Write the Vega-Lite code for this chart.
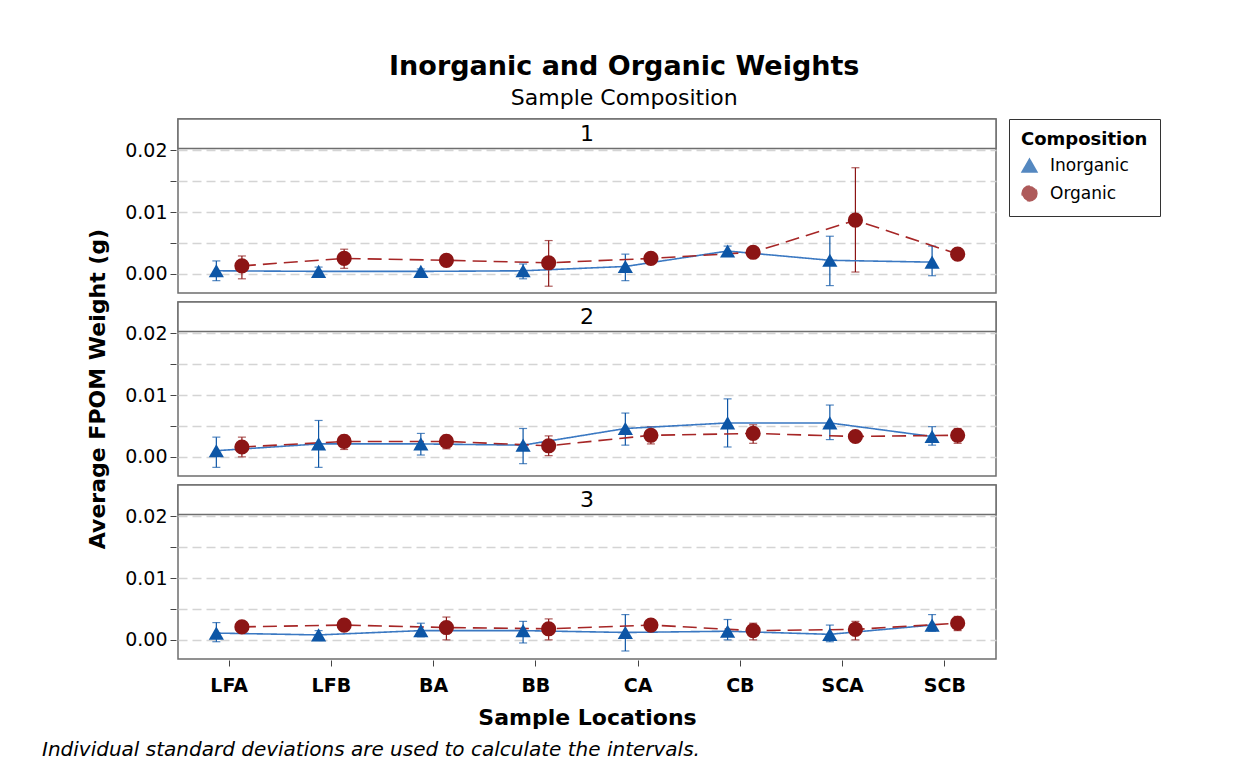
{
  "$schema": "https://vega.github.io/schema/vega-lite/v6.json",
  "background": "white",
  "padding": {"left": 41, "top": 52, "right": 5, "bottom": 5},
  "title": {"text": "Inorganic and Organic Weights", "subtitle": "Sample Composition", "font": "DejaVu Sans", "subtitleFont": "DejaVu Sans", "fontSize": 27, "subtitleFontSize": 22, "fontWeight": "bold", "color": "black", "subtitleColor": "black", "anchor": "middle", "frame": "bounds", "offset": 8, "subtitlePadding": 7, "dx": 23},
  "config": {
    "font": "DejaVu Sans",
    "view": {"stroke": "#6e6e6e", "strokeWidth": 1.5},
    "axisY": {"grid": true, "gridDash": [9, 5], "gridColor": "#d4d4d4", "gridWidth": 1.5, "domain": false, "tickColor": "#444", "tickSize": 6, "labelFontSize": 19, "labelColor": "black", "labelPadding": 3},
    "axisX": {"labelAngle": 0, "labelFontSize": 19, "labelFontWeight": "bold", "labelColor": "black", "tickSize": 6, "tickColor": "#444", "domain": false, "grid": false, "titleFontSize": 22, "titleFontWeight": "bold", "titleColor": "black", "labelPadding": 10, "titlePadding": 12}
  },
  "vconcat": [
    {
      "title": {"text": "Individual standard deviations are used to calculate the intervals.", "orient": "bottom", "anchor": "start", "frame": "bounds", "font": "DejaVu Sans", "fontStyle": "italic", "fontWeight": "normal", "fontSize": 20, "color": "black", "dx": -45, "offset": 12},
      "data": {"values": [
        {"panel": "1", "loc": "LFA", "comp": "Inorganic", "mean": 0.0005, "lo": -0.0011, "hi": 0.0021},
        {"panel": "1", "loc": "LFB", "comp": "Inorganic", "mean": 0.0004, "lo": -0.0003, "hi": 0.0011},
        {"panel": "1", "loc": "BA", "comp": "Inorganic", "mean": 0.0004, "lo": 0.0000, "hi": 0.0008},
        {"panel": "1", "loc": "BB", "comp": "Inorganic", "mean": 0.0005, "lo": -0.0008, "hi": 0.0016},
        {"panel": "1", "loc": "CA", "comp": "Inorganic", "mean": 0.0012, "lo": -0.0011, "hi": 0.0032},
        {"panel": "1", "loc": "CB", "comp": "Inorganic", "mean": 0.0037, "lo": 0.0031, "hi": 0.0045},
        {"panel": "1", "loc": "SCA", "comp": "Inorganic", "mean": 0.0022, "lo": -0.0019, "hi": 0.0061},
        {"panel": "1", "loc": "SCB", "comp": "Inorganic", "mean": 0.0019, "lo": -0.0003, "hi": 0.0045},
        {"panel": "1", "loc": "LFA", "comp": "Organic", "mean": 0.0013, "lo": -0.0008, "hi": 0.0029},
        {"panel": "1", "loc": "LFB", "comp": "Organic", "mean": 0.0025, "lo": 0.0009, "hi": 0.0040},
        {"panel": "1", "loc": "BA", "comp": "Organic", "mean": 0.0022, "lo": 0.0019, "hi": 0.0025},
        {"panel": "1", "loc": "BB", "comp": "Organic", "mean": 0.0018, "lo": -0.0020, "hi": 0.0054},
        {"panel": "1", "loc": "CA", "comp": "Organic", "mean": 0.0025, "lo": 0.0021, "hi": 0.0029},
        {"panel": "1", "loc": "CB", "comp": "Organic", "mean": 0.0035, "lo": 0.0031, "hi": 0.0039},
        {"panel": "1", "loc": "SCA", "comp": "Organic", "mean": 0.0087, "lo": 0.0003, "hi": 0.0172},
        {"panel": "1", "loc": "SCB", "comp": "Organic", "mean": 0.0032, "lo": 0.0028, "hi": 0.0036},
        {"panel": "2", "loc": "LFA", "comp": "Inorganic", "mean": 0.0010, "lo": -0.0017, "hi": 0.0032},
        {"panel": "2", "loc": "LFB", "comp": "Inorganic", "mean": 0.0021, "lo": -0.0017, "hi": 0.0059},
        {"panel": "2", "loc": "BA", "comp": "Inorganic", "mean": 0.0021, "lo": 0.0003, "hi": 0.0038},
        {"panel": "2", "loc": "BB", "comp": "Inorganic", "mean": 0.0019, "lo": -0.0011, "hi": 0.0046},
        {"panel": "2", "loc": "CA", "comp": "Inorganic", "mean": 0.0046, "lo": 0.0019, "hi": 0.0071},
        {"panel": "2", "loc": "CB", "comp": "Inorganic", "mean": 0.0055, "lo": 0.0016, "hi": 0.0094},
        {"panel": "2", "loc": "SCA", "comp": "Inorganic", "mean": 0.0055, "lo": 0.0028, "hi": 0.0084},
        {"panel": "2", "loc": "SCB", "comp": "Inorganic", "mean": 0.0033, "lo": 0.0019, "hi": 0.0049},
        {"panel": "2", "loc": "LFA", "comp": "Organic", "mean": 0.0016, "lo": 0.0000, "hi": 0.0032},
        {"panel": "2", "loc": "LFB", "comp": "Organic", "mean": 0.0025, "lo": 0.0012, "hi": 0.0035},
        {"panel": "2", "loc": "BA", "comp": "Organic", "mean": 0.0025, "lo": 0.0013, "hi": 0.0035},
        {"panel": "2", "loc": "BB", "comp": "Organic", "mean": 0.0018, "lo": 0.0002, "hi": 0.0034},
        {"panel": "2", "loc": "CA", "comp": "Organic", "mean": 0.0035, "lo": 0.0021, "hi": 0.0049},
        {"panel": "2", "loc": "CB", "comp": "Organic", "mean": 0.0038, "lo": 0.0022, "hi": 0.0052},
        {"panel": "2", "loc": "SCA", "comp": "Organic", "mean": 0.0033, "lo": 0.0030, "hi": 0.0036},
        {"panel": "2", "loc": "SCB", "comp": "Organic", "mean": 0.0035, "lo": 0.0022, "hi": 0.0046},
        {"panel": "3", "loc": "LFA", "comp": "Inorganic", "mean": 0.0011, "lo": -0.0003, "hi": 0.0028},
        {"panel": "3", "loc": "LFB", "comp": "Inorganic", "mean": 0.0008, "lo": -0.0001, "hi": 0.0015},
        {"panel": "3", "loc": "BA", "comp": "Inorganic", "mean": 0.0015, "lo": 0.0005, "hi": 0.0027},
        {"panel": "3", "loc": "BB", "comp": "Inorganic", "mean": 0.0015, "lo": -0.0005, "hi": 0.0030},
        {"panel": "3", "loc": "CA", "comp": "Inorganic", "mean": 0.0012, "lo": -0.0018, "hi": 0.0041},
        {"panel": "3", "loc": "CB", "comp": "Inorganic", "mean": 0.0014, "lo": 0.0000, "hi": 0.0033},
        {"panel": "3", "loc": "SCA", "comp": "Inorganic", "mean": 0.0009, "lo": -0.0003, "hi": 0.0024},
        {"panel": "3", "loc": "SCB", "comp": "Inorganic", "mean": 0.0024, "lo": 0.0014, "hi": 0.0041},
        {"panel": "3", "loc": "LFA", "comp": "Organic", "mean": 0.0021, "lo": 0.0017, "hi": 0.0025},
        {"panel": "3", "loc": "LFB", "comp": "Organic", "mean": 0.0024, "lo": 0.0020, "hi": 0.0028},
        {"panel": "3", "loc": "BA", "comp": "Organic", "mean": 0.0020, "lo": 0.0000, "hi": 0.0037},
        {"panel": "3", "loc": "BB", "comp": "Organic", "mean": 0.0018, "lo": 0.0000, "hi": 0.0034},
        {"panel": "3", "loc": "CA", "comp": "Organic", "mean": 0.0024, "lo": 0.0020, "hi": 0.0028},
        {"panel": "3", "loc": "CB", "comp": "Organic", "mean": 0.0015, "lo": 0.0000, "hi": 0.0027},
        {"panel": "3", "loc": "SCA", "comp": "Organic", "mean": 0.0017, "lo": 0.0000, "hi": 0.0030},
        {"panel": "3", "loc": "SCB", "comp": "Organic", "mean": 0.0027, "lo": 0.0015, "hi": 0.0038}
      ]},
      "facet": {"row": {"field": "panel", "type": "ordinal", "title": "Average FPOM Weight (g)", "header": {"labels": false, "titleOrient": "left", "titleAngle": -90, "titleFontSize": 22, "titleFontWeight": "bold", "titleColor": "black", "titleFont": "DejaVu Sans", "titlePadding": -18}}},
      "spacing": 6,
      "spec": {
        "width": 818,
        "height": 174,
        "layer": [
          {
            "transform": [{"aggregate": [{"op": "count", "as": "n"}], "groupby": ["panel"]}],
            "layer": [
              {"mark": {"type": "rect", "fill": "white", "stroke": "#6e6e6e", "strokeWidth": 1.5},
               "encoding": {"y": {"datum": 0.0203, "type": "quantitative", "scale": {"domain": [-0.0031, 0.0251], "nice": false, "zero": false}, "title": null, "axis": {"values": [0, 0.005, 0.01, 0.015, 0.02], "labelExpr": "round(datum.value*1000) % 10 == 0 ? format(datum.value, '.2f') : ''"}}, "y2": {"datum": 0.0251}}},
              {"mark": {"type": "text", "fontSize": 22, "font": "DejaVu Sans", "color": "black", "baseline": "middle", "align": "center"},
               "encoding": {"y": {"datum": 0.0227, "type": "quantitative", "title": null}, "text": {"field": "panel"}}}
            ]
          },
          {
            "mark": {"type": "rule", "strokeWidth": 1.2},
            "encoding": {
              "x": {"field": "loc", "type": "nominal", "sort": ["LFA", "LFB", "BA", "BB", "CA", "CB", "SCA", "SCB"], "scale": {"paddingInner": 0, "paddingOuter": 0}, "title": "Sample Locations"},
              "xOffset": {"field": "comp", "scale": {"paddingInner": 0, "paddingOuter": 1.223}},
              "y": {"field": "lo", "type": "quantitative", "title": null},
              "y2": {"field": "hi"},
              "color": {"field": "comp", "type": "nominal"}
            }
          },
          {
            "mark": {"type": "tick", "size": 8, "thickness": 1.2},
            "encoding": {
              "x": {"field": "loc", "type": "nominal", "sort": ["LFA", "LFB", "BA", "BB", "CA", "CB", "SCA", "SCB"]},
              "xOffset": {"field": "comp"},
              "y": {"field": "lo", "type": "quantitative", "title": null},
              "color": {"field": "comp", "type": "nominal"}
            }
          },
          {
            "mark": {"type": "tick", "size": 8, "thickness": 1.2},
            "encoding": {
              "x": {"field": "loc", "type": "nominal", "sort": ["LFA", "LFB", "BA", "BB", "CA", "CB", "SCA", "SCB"]},
              "xOffset": {"field": "comp"},
              "y": {"field": "hi", "type": "quantitative", "title": null},
              "color": {"field": "comp", "type": "nominal"}
            }
          },
          {
            "mark": {"type": "line", "strokeWidth": 1.6},
            "encoding": {
              "x": {"field": "loc", "type": "nominal", "sort": ["LFA", "LFB", "BA", "BB", "CA", "CB", "SCA", "SCB"]},
              "xOffset": {"field": "comp"},
              "y": {"field": "mean", "type": "quantitative", "title": null},
              "stroke": {"field": "comp", "type": "nominal", "scale": {"domain": ["Inorganic", "Organic"], "range": ["#3a78c2", "#a62626"]}, "legend": null},
              "strokeDash": {"field": "comp", "type": "nominal", "scale": {"domain": ["Inorganic", "Organic"], "range": [[1, 0], [14, 7]]}, "legend": null}
            }
          },
          {
            "mark": {"type": "point", "filled": true, "opacity": 1, "size": 230},
            "encoding": {
              "x": {"field": "loc", "type": "nominal", "sort": ["LFA", "LFB", "BA", "BB", "CA", "CB", "SCA", "SCB"]},
              "xOffset": {"field": "comp"},
              "y": {"field": "mean", "type": "quantitative", "title": null},
              "shape": {"field": "comp", "type": "nominal", "scale": {"domain": ["Inorganic", "Organic"], "range": ["triangle-up", "circle"]}, "legend": null},
              "color": {"field": "comp", "type": "nominal", "scale": {"domain": ["Inorganic", "Organic"], "range": ["#0d56a6", "#8c1515"]},
                "legend": {
                  "title": "Composition", "orient": "right", "offset": 11, "strokeColor": "#333", "padding": 12,
                  "titleFontSize": 18, "titleFont": "DejaVu Sans", "titleFontWeight": "bold", "titleColor": "black",
                  "labelFontSize": 17, "labelFont": "DejaVu Sans", "labelColor": "black",
                  "symbolSize": 220, "rowPadding": 8, "labelOffset": 12, "titlePadding": 8
                }
              }
            }
          }
        ]
      }
    }
  ]
}
